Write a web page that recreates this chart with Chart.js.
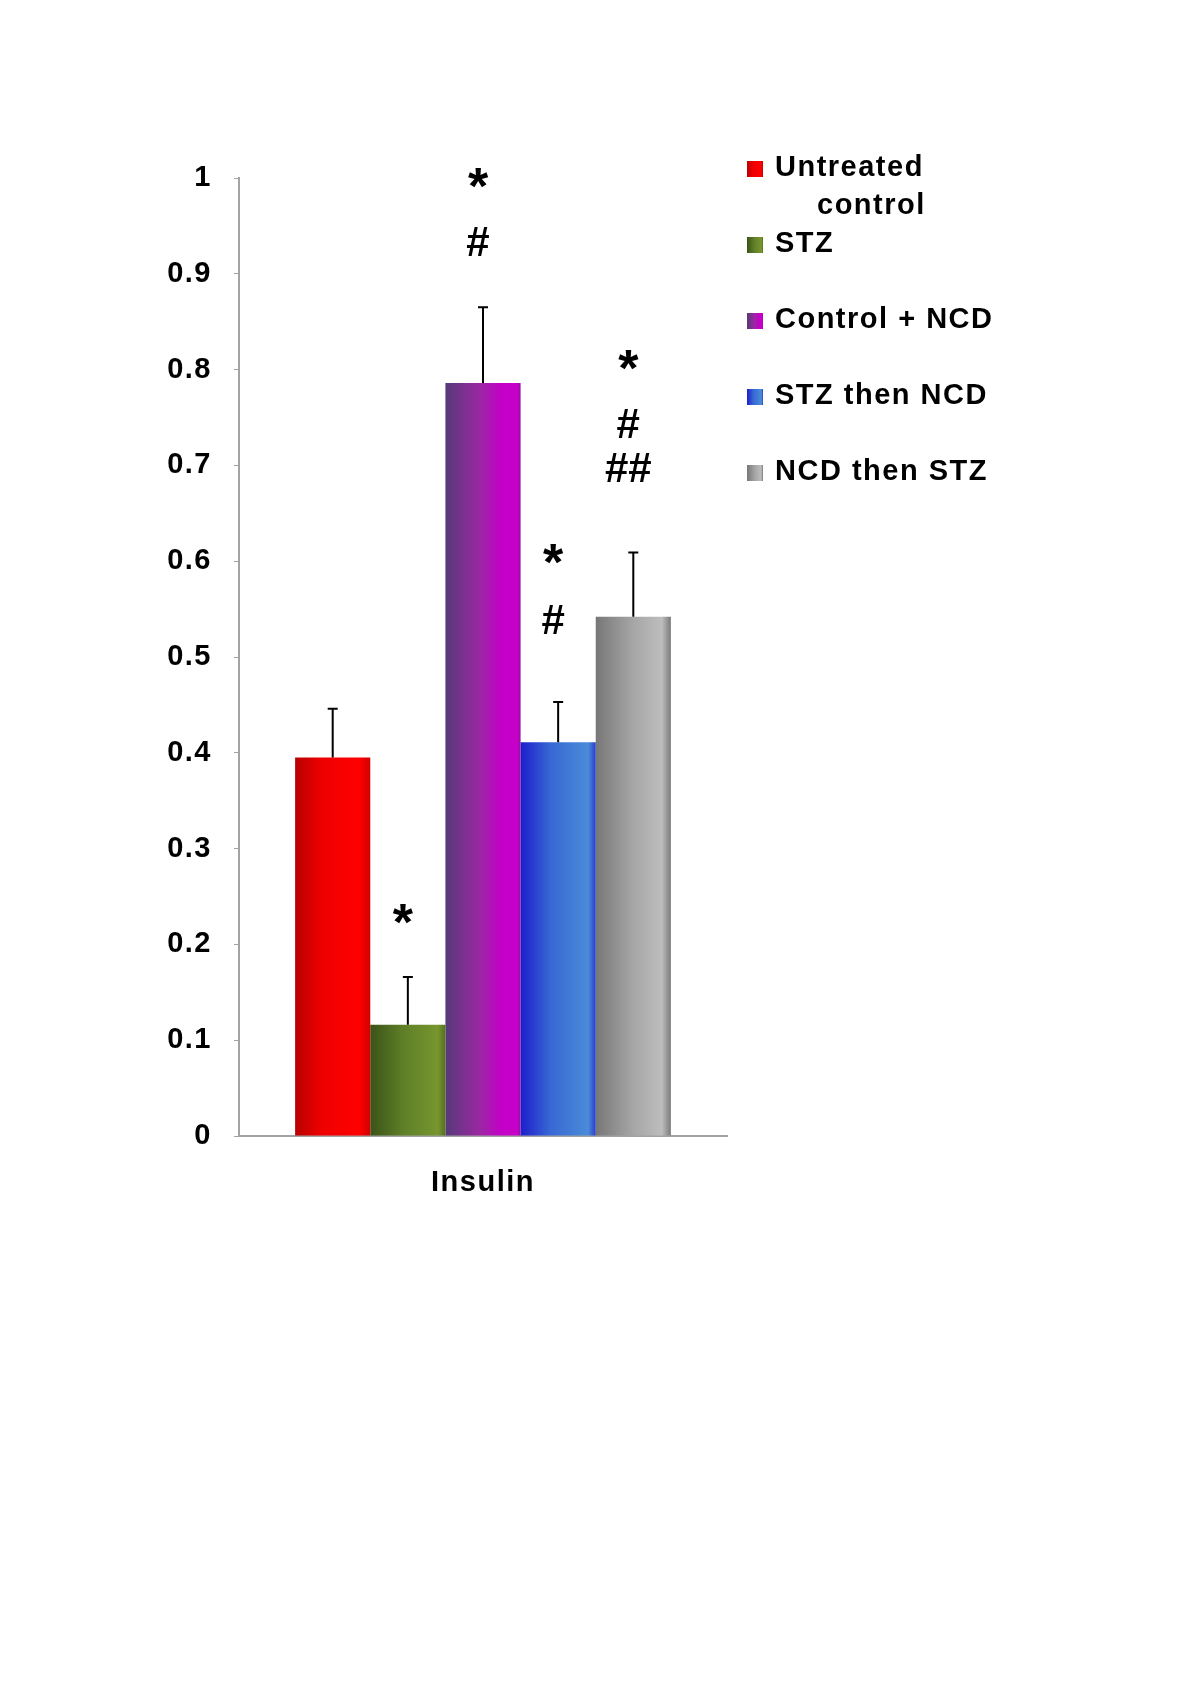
<!DOCTYPE html>
<html>
<head>
<meta charset="utf-8">
<script src="https://cdn.jsdelivr.net/npm/chart.js@4.4.0/dist/chart.umd.min.js"></script>
<style>
  html, body { margin: 0; padding: 0; background: #fff; }
  canvas { display: block; }
</style>
</head>
<body>
<canvas id="insulin-chart" width="1200" height="1697"></canvas>
<script>
// Data
const categories = ['Insulin'];
const groupNames = ['Untreated\ncontrol', 'STZ', 'Control + NCD', 'STZ then NCD', 'NCD then STZ'];
const meanValues = [0.395, 0.116, 0.786, 0.411, 0.542];
const errorValues = [0.051, 0.050, 0.079, 0.042, 0.067];
const yTickLabels = ['0', '0.1', '0.2', '0.3', '0.4', '0.5', '0.6', '0.7', '0.8', '0.9', '1'];
// significance marks above each bar and the level (y value) each one sits at
const sigMarks = [[], ['*'], ['*', '#'], ['*', '#'], ['*', '#', '##']];
const sigLevels = [[], [0.232], [1.0, 0.934], [0.608, 0.539], [0.810, 0.744, 0.698]];

// Horizontal shading of each bar (left -> right)
const barShades = [
    [[0, '#b80000'], [0.35, '#ee0000'], [0.85, '#ff0000'], [1, '#d20000']],
    [[0, '#3b5318'], [0.45, '#5f8028'], [0.9, '#77962f'], [1, '#55701f']],
    [[0, '#553a78'], [0.45, '#9a28a2'], [0.75, '#c400c8'], [0.95, '#c800c8'], [1, '#9010a8']],
    [[0, '#1e1ecc'], [0.4, '#3868d4'], [0.9, '#4a8cd8'], [1, '#2a3ccc']],
    [[0, '#777777'], [0.5, '#a6a6a6'], [0.88, '#bdbdbd'], [1, '#7a7a7a']]
];

const axisGray = '#a3a3a3';
const fontFamily = '"Liberation Sans", Arial, sans-serif';
const textFont = { family: fontFamily, size: 29, weight: 'bold' };

function makeShade(ctx, left, right, stops) {
    const g = ctx.createLinearGradient(left, 0, right, 0);
    stops.forEach(s => g.addColorStop(s[0], s[1]));
    return g;
}

// the original lettering is a little wider than Arial
const wideText = {
    id: 'wideText',
    beforeDraw(chart) {
        chart.ctx.letterSpacing = '1.5px';
    }
};

// Apply shading once bars have their final positions
const barShading = {
    id: 'barShading',
    beforeDatasetsDraw(chart) {
        chart.data.datasets.forEach((ds, i) => {
            chart.getDatasetMeta(i).data.forEach(el => {
                const g = makeShade(chart.ctx, el.x - el.width / 2, el.x + el.width / 2, barShades[i]);
                el.options = Object.assign({}, el.options, { backgroundColor: g });
            });
        });
    }
};

// Upper error bars (SE)
const errorBars = {
    id: 'errorBars',
    afterDatasetsDraw(chart) {
        const ctx = chart.ctx;
        const y = chart.scales.y;
        ctx.save();
        ctx.strokeStyle = '#000';
        ctx.lineWidth = 2;
        chart.data.datasets.forEach((ds, i) => {
            chart.getDatasetMeta(i).data.forEach((el, j) => {
                const top = y.getPixelForValue(ds.data[j] + ds.errors[j]);
                ctx.beginPath();
                ctx.moveTo(el.x, el.y);
                ctx.lineTo(el.x, top);
                ctx.moveTo(el.x - 5, top);
                ctx.lineTo(el.x + 5, top);
                ctx.stroke();
            });
        });
        ctx.restore();
    }
};

// * / # / ## marks
const sigLabels = {
    id: 'sigLabels',
    afterDatasetsDraw(chart) {
        const ctx = chart.ctx;
        const y = chart.scales.y;
        ctx.save();
        ctx.letterSpacing = '0px';
        ctx.fillStyle = '#000';
        ctx.textAlign = 'center';
        ctx.textBaseline = 'alphabetic';
        chart.data.datasets.forEach((ds, i) => {
            const el = chart.getDatasetMeta(i).data[0];
            ds.marks.forEach((mark, k) => {
                const size = mark === '*' ? 52 : 42;
                ctx.font = 'bold ' + size + 'px ' + fontFamily;
                const m = ctx.measureText(mark);
                const yc = y.getPixelForValue(ds.markLevels[k]);
                ctx.fillText(mark, el.x - 5, yc + (m.actualBoundingBoxAscent - m.actualBoundingBoxDescent) / 2);
            });
        });
        ctx.restore();
    }
};

// Legend on the right, Excel style
const sideLegend = {
    id: 'sideLegend',
    afterDraw(chart) {
        const ctx = chart.ctx;
        ctx.save();
        ctx.font = 'bold 29px ' + fontFamily;
        ctx.textAlign = 'left';
        ctx.textBaseline = 'middle';
        chart.data.datasets.forEach((ds, i) => {
            const yc = 168 + 76 * i;
            ctx.fillStyle = makeShade(ctx, 747, 763, barShades[i]);
            ctx.fillRect(747, yc - 7, 16, 16);
            ctx.fillStyle = '#000';
            ds.label.split('\n').forEach((line, k) => {
                ctx.fillText(line, k === 0 ? 775 : 817, yc + 38 * k);
            });
        });
        ctx.restore();
    }
};

const insulinChart = new Chart(document.getElementById('insulin-chart').getContext('2d'), {
    type: 'bar',
    data: {
        labels: categories,
        datasets: groupNames.map((name, i) => ({
            label: name,
            data: [meanValues[i]],
            errors: [errorValues[i]],
            marks: sigMarks[i],
            markLevels: sigLevels[i],
            backgroundColor: barShades[i][2][1],
            borderWidth: 0,
            categoryPercentage: 0.77,
            barPercentage: 1
        }))
    },
    options: {
        responsive: false,
        animation: false,
        devicePixelRatio: 1,
        layout: { padding: { left: 0, top: 178, right: 473, bottom: 0 } },
        plugins: {
            legend: { display: false },
            tooltip: { enabled: false }
        },
        scales: {
            x: {
                grid: { display: false, drawTicks: false },
                border: { display: true, color: axisGray, width: 2 },
                ticks: { font: textFont, color: '#000', padding: 30 },
                afterFit(scale) { scale.height = 561; }
            },
            y: {
                min: 0,
                max: 1,
                ticks: {
                    stepSize: 0.1,
                    padding: 22,
                    font: textFont,
                    color: '#000',
                    callback: (v, idx) => yTickLabels[idx]
                },
                grid: { drawOnChartArea: false, drawTicks: true, tickLength: 5, color: axisGray, lineWidth: 1 },
                border: { color: axisGray, width: 2 },
                afterFit(scale) { scale.width = 239; }
            }
        }
    },
    plugins: [wideText, barShading, errorBars, sigLabels, sideLegend]
});
</script>
</body>
</html>
